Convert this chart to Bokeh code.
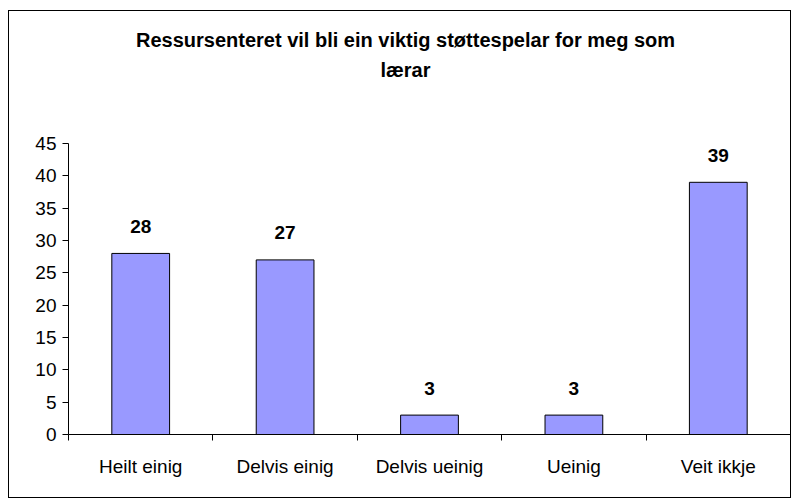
from bokeh.plotting import figure
from bokeh.models import FixedTicker, Label, ColumnDataSource, Range1d
from bokeh.embed import file_html
from bokeh.resources import INLINE
from bokeh.core.properties import value

categories = ["Heilt einig", "Delvis einig", "Delvis ueinig", "Ueinig", "Veit ikkje"]
counts = [28, 27, 3, 3, 39]
y_ticks = [0, 5, 10, 15, 20, 25, 30, 35, 40, 45]
y_max = 45
title_lines = ["Ressursenteret vil bli ein viktig støttespelar for meg som", "lærar"]

FONT = "Liberation Sans"

# layout geometry (pixels)
FRAME_W = 722          # plot area width
AXIS_H = 291           # height of the 0..45 axis
TOP_EXTRA = 130        # space above the 45 tick (holds the title)
px_per_unit = AXIS_H / y_max
y_end = y_max + TOP_EXTRA / px_per_unit

xs = [i + 0.5 for i in range(len(categories))]
src = ColumnDataSource(dict(x=xs, top=counts, label=[str(c) for c in counts]))

p = figure(width=783, height=488,
           x_range=Range1d(0, len(categories)), y_range=Range1d(0, y_end),
           output_backend="svg", toolbar_location=None,
           min_border_left=59, min_border_right=2,
           min_border_top=488 - 65 - AXIS_H - TOP_EXTRA, min_border_bottom=65,
           margin=(10, 0, 0, 8),
           styles={"border": "1px solid black"})

p.outline_line_color = None
p.xgrid.visible = False
p.ygrid.visible = False
p.background_fill_color = "white"
p.border_fill_color = "white"

p.vbar(x="x", top="top", width=0.4, source=src,
       fill_color="#9999FF", line_color="black", line_width=1)

p.text(x="x", y="top", text="label", source=src, y_offset=-27,
       text_align="center", text_baseline="middle",
       text_font=value(FONT), text_font_style="bold",
       text_font_size="19px", text_color="black")

# x axis
xa = p.xaxis[0]
xa.ticker = FixedTicker(ticks=xs, minor_ticks=list(range(len(categories) + 1)))
xa.major_label_overrides = {x: c for x, c in zip(xs, categories)}
xa.major_tick_out = 0
xa.major_tick_in = 0
xa.minor_tick_out = 6
xa.minor_tick_in = 0
xa.minor_tick_line_color = "black"
xa.axis_line_color = "black"
xa.major_label_standoff = 15
xa.major_label_text_font = FONT
xa.major_label_text_font_size = "19px"
xa.major_label_text_color = "black"

# y axis
ya = p.yaxis[0]
ya.ticker = FixedTicker(ticks=y_ticks, minor_ticks=[])
ya.bounds = (0, y_max)
ya.major_tick_out = 6
ya.major_tick_in = 0
ya.minor_tick_out = 0
ya.minor_tick_in = 0
ya.major_tick_line_color = "black"
ya.axis_line_color = "black"
ya.major_label_standoff = 6
ya.major_label_text_font = FONT
ya.major_label_text_font_size = "19px"
ya.major_label_text_color = "black"

# title lines (placed above the 45 tick, centred slightly left of the plot centre)
title_cx = 337 / FRAME_W * len(categories)
title_px_above = [104, 73.5]
for txt, dy in zip(title_lines, title_px_above):
    p.add_layout(Label(x=title_cx, y=y_max + dy / px_per_unit,
                       text=txt, text_align="center", text_baseline="middle",
                       text_font=FONT, text_font_style="bold",
                       text_font_size="20px", text_color="black"))

open("out.html", "w").write(file_html(p, INLINE))
